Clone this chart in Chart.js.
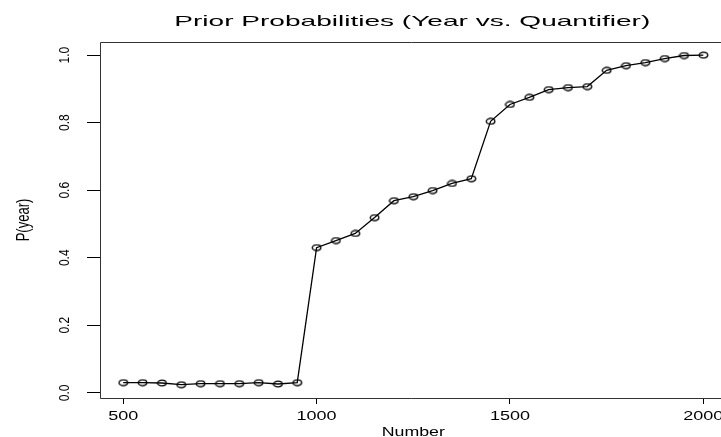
<!DOCTYPE html>
<html>
<head>
  <title>Prior Probabilities</title>
  <style>
    body { margin: 0; background: #fff; overflow: hidden; }
    #wrap { width: 721px; height: 437px; }
  </style>
  <script src="https://cdn.jsdelivr.net/npm/chart.js"></script>
</head>
<body>
  <div id="wrap"><canvas id="chart" width="721" height="437"></canvas></div>
  <script>
    // data
    const years = [500, 550, 600, 650, 700, 750, 800, 850, 900, 950,
                   1000, 1050, 1100, 1150, 1200, 1250, 1300, 1350, 1400, 1450,
                   1500, 1550, 1600, 1650, 1700, 1750, 1800, 1850, 1900, 1950, 2000];
    const prior = [0.030, 0.030, 0.029, 0.024, 0.027, 0.027, 0.027, 0.030, 0.026, 0.030,
                   0.430, 0.451, 0.472, 0.519, 0.569, 0.581, 0.599, 0.620, 0.634, 0.804,
                   0.854, 0.875, 0.898, 0.904, 0.907, 0.955, 0.969, 0.978, 0.990, 0.999, 1.000];
    const xTicks = [500, 1000, 1500, 2000];
    const yTicks = [0.0, 0.2, 0.4, 0.6, 0.8, 1.0];

    const titleText = "Prior Probabilities (Year vs. Quantifier)";
    const xTitle = "Number";
    const yTitle = "P(year)";
    const FONT = '"Liberation Sans", Arial, sans-serif';

    // open ellipse marker (the picture is stretched sideways)
    const marker = document.createElement("canvas");
    marker.width = 11; marker.height = 8;
    const mctx = marker.getContext("2d");
    mctx.strokeStyle = "#000";
    mctx.lineWidth = 1.3;
    mctx.beginPath();
    mctx.ellipse(5.5, 4, 4.3, 2.8, 0, 0, Math.PI * 2);
    mctx.stroke();

    // text drawn with a horizontal stretch, like the original
    function stretchText(ctx, text, x, y, size, sx, rotate) {
      ctx.save();
      ctx.font = size + "px " + FONT;
      ctx.fillStyle = "#000";
      ctx.textAlign = "center";
      ctx.textBaseline = "alphabetic";
      ctx.translate(x, y);
      ctx.scale(sx, 1);
      if (rotate) ctx.rotate(-Math.PI / 2);
      ctx.fillText(text, 0, 0);
      ctx.restore();
    }

    const rPlot = {
      id: "rPlot",
      afterDraw(chart) {
        const ctx = chart.ctx;
        const a = chart.chartArea;
        const xs = chart.scales.x, ys = chart.scales.y;
        // box, open on the right (it runs off the picture)
        ctx.save();
        ctx.strokeStyle = "#333";
        ctx.lineWidth = 1;
        ctx.beginPath();
        ctx.moveTo(chart.width + 5, a.top + 0.5);
        ctx.lineTo(a.left + 0.5, a.top + 0.5);
        ctx.lineTo(a.left + 0.5, a.bottom + 0.5);
        ctx.lineTo(chart.width + 5, a.bottom + 0.5);
        ctx.stroke();
        ctx.restore();

        const midX = (a.left + xs.getPixelForValue(2060)) / 2;
        stretchText(ctx, titleText, midX - 1, 26, 15, 1.87, false);
        xTicks.forEach(v => {
          stretchText(ctx, String(v), xs.getPixelForValue(v), 420, 12, 1.5, false);
        });
        stretchText(ctx, xTitle, midX, 436, 12, 1.48, false);
        yTicks.forEach(v => {
          stretchText(ctx, v.toFixed(1), 69, ys.getPixelForValue(v), 12, 1.15, true);
        });
        stretchText(ctx, yTitle, 29, (a.top + a.bottom) / 2, 13, 1.35, true);
      }
    };

    new Chart(document.getElementById("chart"), {
      type: "line",
      data: {
        labels: years,
        datasets: [{
          data: years.map((y, i) => ({ x: y, y: prior[i] })),
          borderColor: "#000",
          borderWidth: 1.3,
          pointStyle: marker,
          pointRadius: 4,
          tension: 0,
          fill: false
        }]
      },
      options: {
        responsive: false,
        animation: false,
        layout: { padding: { top: 42, left: 0, right: 0, bottom: 0 } },
        plugins: { legend: { display: false }, tooltip: { enabled: false } },
        scales: {
          x: {
            type: "linear",
            min: 440,
            max: 2032,
            afterBuildTicks: s => { s.ticks = xTicks.map(v => ({ value: v })); },
            afterFit: s => { s.height = 39; },
            ticks: { display: false },
            grid: { drawOnChartArea: false, tickLength: 6, color: "#000" },
            border: { display: false }
          },
          y: {
            min: -0.0154,
            max: 1.039,
            afterBuildTicks: s => { s.ticks = yTicks.map(v => ({ value: v })); },
            afterFit: s => { s.width = 100; },
            ticks: { display: false },
            grid: { drawOnChartArea: false, tickLength: 13, color: "#000" },
            border: { display: false }
          }
        }
      },
      plugins: [rPlot]
    });
  </script>
</body>
</html>
